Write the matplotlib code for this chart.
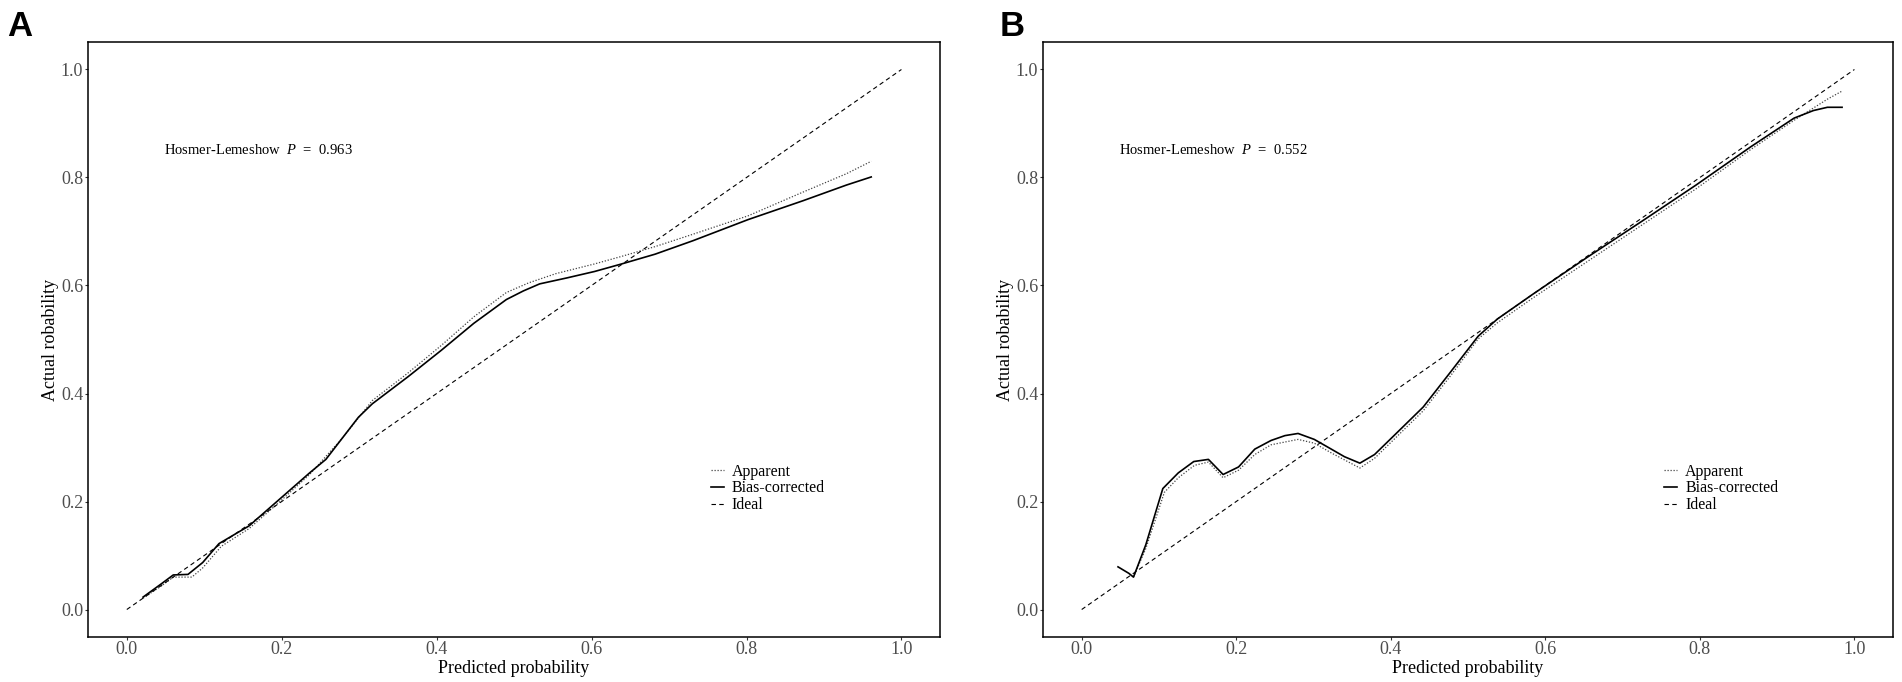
import matplotlib
matplotlib.use("Agg")
import matplotlib.pyplot as plt
import numpy as np

plt.rcParams['font.family'] = ['Liberation Serif', 'DejaVu Serif']
plt.rcParams['mathtext.fontset'] = 'custom'
plt.rcParams['mathtext.it'] = 'Liberation Serif:italic'
plt.rcParams['mathtext.rm'] = 'Liberation Serif'

# panel A - calibration curve values
a_bias_x = [0.021, 0.045, 0.060, 0.079, 0.098, 0.119, 0.158, 0.197, 0.236,
            0.257, 0.278, 0.299, 0.317, 0.363, 0.406, 0.448, 0.490, 0.512,
            0.533, 0.568, 0.604, 0.639, 0.682, 0.731, 0.802, 0.873, 0.929,
            0.961]
a_bias_y = [0.023, 0.048, 0.064, 0.065, 0.087, 0.122, 0.155, 0.204, 0.253,
            0.278, 0.317, 0.356, 0.381, 0.431, 0.480, 0.530, 0.574, 0.590,
            0.603, 0.614, 0.626, 0.640, 0.658, 0.683, 0.722, 0.757, 0.786,
            0.801]
a_app_x = [0.021, 0.045, 0.060, 0.084, 0.098, 0.122, 0.158, 0.197, 0.236,
           0.278, 0.317, 0.363, 0.406, 0.448, 0.490, 0.519, 0.554, 0.604,
           0.639, 0.682, 0.731, 0.802, 0.873, 0.929, 0.961]
a_app_y = [0.021, 0.044, 0.060, 0.060, 0.077, 0.117, 0.150, 0.199, 0.250,
           0.317, 0.387, 0.438, 0.489, 0.542, 0.587, 0.605, 0.622, 0.640,
           0.654, 0.672, 0.695, 0.729, 0.773, 0.807, 0.830]
a_pval = '0.963'

# panel B
b_bias_x = [0.047, 0.061, 0.067, 0.083, 0.105, 0.125, 0.145, 0.164, 0.183,
            0.203, 0.224, 0.245, 0.263, 0.280, 0.301, 0.323, 0.340, 0.360,
            0.379, 0.407, 0.442, 0.478, 0.513, 0.538, 0.584, 0.654, 0.725,
            0.795, 0.866, 0.922, 0.947, 0.965, 0.984]
b_bias_y = [0.079, 0.067, 0.060, 0.120, 0.224, 0.253, 0.274, 0.278, 0.250,
            0.264, 0.297, 0.313, 0.322, 0.326, 0.315, 0.297, 0.283, 0.271,
            0.287, 0.326, 0.375, 0.441, 0.506, 0.538, 0.584, 0.652, 0.719,
            0.786, 0.857, 0.910, 0.924, 0.930, 0.930]
b_app_x = [0.067, 0.083, 0.107, 0.125, 0.146, 0.164, 0.183, 0.203, 0.224,
           0.245, 0.280, 0.301, 0.323, 0.360, 0.379, 0.407, 0.442, 0.478,
           0.513, 0.538, 0.584, 0.654, 0.725, 0.795, 0.866, 0.922, 0.965,
           0.984]
b_app_y = [0.060, 0.113, 0.217, 0.244, 0.267, 0.273, 0.244, 0.258, 0.287,
           0.305, 0.315, 0.308, 0.290, 0.262, 0.280, 0.319, 0.368, 0.434,
           0.501, 0.531, 0.577, 0.644, 0.712, 0.779, 0.852, 0.906, 0.945,
           0.960]
b_pval = '0.552'

ticks = [0.0, 0.2, 0.4, 0.6, 0.8, 1.0]
tick_labels = ['0.0', '0.2', '0.4', '0.6', '0.8', '1.0']
ideal = [0.0, 1.0]


def calib_panel(ax, app_x, app_y, bias_x, bias_y, pval):
    """
    Draws one calibration plot: apparent, bias-corrected and ideal lines,
    the Hosmer-Lemeshow text and the legend.
    """
    ax.plot(app_x, app_y, color='#444444', lw=0.9,
            linestyle=(0, (1, 1.4)), label='Apparent')
    ax.plot(bias_x, bias_y, color='black', lw=1.2, label='Bias-corrected')
    ax.plot(ideal, ideal, color='black', lw=0.8,
            linestyle=(0, (4, 3)), label='Ideal')

    ax.set_xlim(-0.05, 1.05)
    ax.set_ylim(-0.05, 1.05)
    ax.set_xticks(ticks)
    ax.set_xticklabels(tick_labels)
    ax.set_yticks(ticks)
    ax.set_yticklabels(tick_labels)
    ax.tick_params(axis='both', labelsize=13, labelcolor='#4D4D4D',
                   length=2.2, width=0.8, color='#333333', pad=1.3)
    for s in ax.spines.values():
        s.set_linewidth(1.1)
    ax.set_xlabel('Predicted probability', fontsize=13, labelpad=1)
    ax.set_ylabel('Actual robability', fontsize=13, labelpad=1)

    # the P value line has wide gaps round P and '=' like R plotmath
    ax.text(0.048, 0.85, r'Hosmer-Lemeshow  $P$  =  ' + pval,
            fontsize=10.5, ha='left', va='center')

    ax.legend(loc='upper left', bbox_to_anchor=(0.731, 0.291), frameon=False,
              fontsize=11.5, handlelength=0.8, handletextpad=0.5,
              labelspacing=0.05, borderpad=0, borderaxespad=0)


fig = plt.figure(figsize=(19.02, 6.82), dpi=100)
ax1 = fig.add_axes([0.0463, 0.0667, 0.4480, 0.871])
ax2 = fig.add_axes([0.5484, 0.0667, 0.4469, 0.871])

calib_panel(ax1, a_app_x, a_app_y, a_bias_x, a_bias_y, a_pval)
calib_panel(ax2, b_app_x, b_app_y, b_bias_x, b_bias_y, b_pval)

fig.text(0.004, 1 - 36 / 682, 'A', fontsize=25, fontweight='bold',
         family=['Liberation Sans', 'DejaVu Sans'], va='baseline')
fig.text(0.5255, 1 - 36 / 682, 'B', fontsize=25, fontweight='bold',
         family=['Liberation Sans', 'DejaVu Sans'], va='baseline')

fig.savefig('out.png', dpi=100)
